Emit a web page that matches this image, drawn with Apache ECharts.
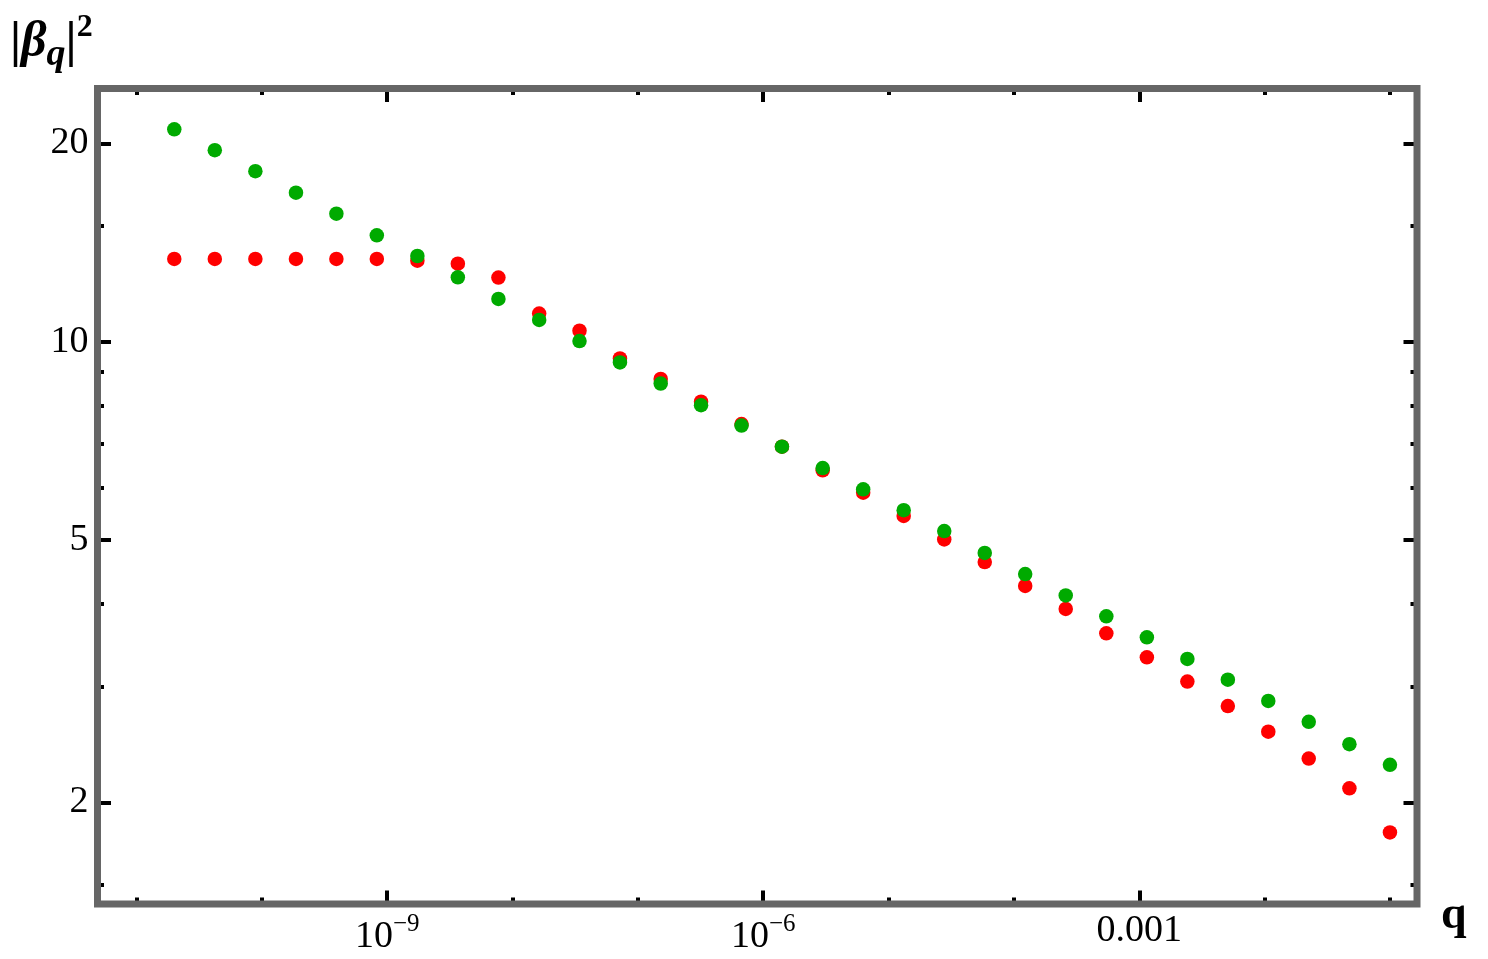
<!DOCTYPE html>
<html>
<head>
<meta charset="utf-8">
<title>|beta_q|^2 vs q</title>
<script src="https://cdn.jsdelivr.net/npm/echarts@6/dist/echarts.min.js"></script>
<style>
  html, body { margin: 0; padding: 0; background: #fff; }
  #chart { width: 1488px; height: 959px; }
</style>
</head>
<body>
<div id="chart"></div>
<script>
// data (both axes logarithmic)
const qValues = [2.0e-11, 4.21e-11, 8.87e-11, 1.87e-10, 3.93e-10, 8.26e-10, 1.74e-9, 3.66e-9,
  7.71e-9, 1.63e-8, 3.42e-8, 7.19e-8, 1.52e-7, 3.19e-7, 6.71e-7, 1.41e-6, 2.98e-6, 6.27e-6,
  1.32e-5, 2.78e-5, 5.85e-5, 1.23e-4, 2.59e-4, 5.46e-4, 1.15e-3, 2.42e-3, 5.09e-3, 1.07e-2,
  2.25e-2, 4.75e-2, 0.1]
const betaRed = [13.35, 13.35, 13.35, 13.35, 13.35, 13.35, 13.27, 13.13, 12.51, 11.03, 10.39,
  9.43, 8.78, 8.11, 7.50, 6.93, 6.38, 5.90, 5.44, 5.01, 4.63, 4.26, 3.93, 3.61, 3.32, 3.05,
  2.80, 2.56, 2.33, 2.10, 1.80]
const betaGreen = [21.0, 19.52, 18.14, 16.83, 15.64, 14.50, 13.49, 12.52, 11.61, 10.79, 10.02,
  9.30, 8.64, 8.01, 7.46, 6.93, 6.43, 5.97, 5.55, 5.16, 4.78, 4.44, 4.12, 3.83, 3.56, 3.30,
  3.07, 2.85, 2.65, 2.45, 2.28]

const xMajorTicks = [1e-9, 1e-6, 1e-3]
const xMinorTicks = [1e-11, 1e-10, 1e-8, 1e-7, 1e-5, 1e-4, 1e-2, 1e-1]
const yMajorTicks = [2, 5, 10, 20]
const yMinorTicks = [1.5, 3, 4, 6, 7, 8, 9, 15]
const xRange = [4.88e-12, 0.1644]
const yRange = [1.402, 24.22]

const lg = Math.log10
const serif = '"Liberation Serif", "DejaVu Serif", serif'

function xLabel(v) {
  const p = Math.round(v)
  if (p === -3) return '0.001'
  return '{b|10}{s|\u2212' + (-p) + '}'
}

function xAxisOf(position, ticks, major) {
  return {
    type: 'value',
    position: position,
    min: lg(xRange[0]),
    max: lg(xRange[1]),
    axisLine: { show: false },
    splitLine: { show: false },
    axisTick: {
      show: true,
      inside: true,
      length: major ? 13.5 : 6.5,
      customValues: ticks.map(lg),
      lineStyle: { color: '#000', width: 4 }
    },
    axisLabel: {
      show: major && position === 'bottom',
      customValues: ticks.map(lg),
      margin: 8,
      formatter: xLabel,
      color: '#000',
      fontFamily: serif,
      fontSize: 38,
      rich: {
        b: { fontFamily: serif, fontSize: 38, color: '#000', lineHeight: 44, verticalAlign: 'bottom' },
        s: { fontFamily: serif, fontSize: 25, color: '#000', lineHeight: 25, verticalAlign: 'top' }
      }
    }
  }
}

function yAxisOf(position, ticks, major) {
  return {
    type: 'value',
    position: position,
    min: lg(yRange[0]),
    max: lg(yRange[1]),
    axisLine: { show: false },
    splitLine: { show: false },
    axisTick: {
      show: true,
      inside: true,
      length: major ? 13.5 : 6.5,
      customValues: ticks.map(lg),
      lineStyle: { color: '#000', width: 4 }
    },
    axisLabel: {
      show: major && position === 'left',
      customValues: ticks.map(lg),
      margin: 9,
      formatter: v => String(Math.round(Math.pow(10, v))),
      color: '#000',
      fontFamily: serif,
      fontSize: 38
    }
  }
}

const chart = echarts.init(document.getElementById('chart'))

chart.setOption({
  animation: false,
  backgroundColor: '#fff',
  title: [{
    text: '{bar||}{beta|\u03B2}{sub|q}{bar||}{sup|2}',
    left: 10,
    top: 12,
    padding: 0,
    textStyle: {
      rich: {
        bar: { fontFamily: serif, fontWeight: 'bold', fontSize: 50, color: '#000', lineHeight: 62 },
        beta: { fontFamily: serif, fontWeight: 'bold', fontStyle: 'italic', fontSize: 50, color: '#000', lineHeight: 62 },
        sub: { fontFamily: serif, fontWeight: 'bold', fontStyle: 'italic', fontSize: 38, color: '#000', lineHeight: 40, verticalAlign: 'bottom' },
        sup: { fontFamily: serif, fontWeight: 'bold', fontSize: 32, color: '#000', lineHeight: 32, verticalAlign: 'top' }
      }
    }
  }, {
    text: 'q',
    left: 1441,
    top: 893,
    padding: 0,
    textStyle: { fontFamily: serif, fontWeight: 'bold', fontSize: 46, color: '#000' }
  }],
  grid: {
    left: 97.5,
    right: 71,
    top: 88.5,
    bottom: 55,
    show: true,
    z: 5,
    backgroundColor: 'transparent',
    borderColor: '#666666',
    borderWidth: 7,
    outerBoundsMode: 'none'
  },
  xAxis: [
    xAxisOf('bottom', xMajorTicks, true),
    xAxisOf('bottom', xMinorTicks, false),
    xAxisOf('top', xMajorTicks, true),
    xAxisOf('top', xMinorTicks, false)
  ],
  yAxis: [
    yAxisOf('left', yMajorTicks, true),
    yAxisOf('left', yMinorTicks, false),
    yAxisOf('right', yMajorTicks, true),
    yAxisOf('right', yMinorTicks, false)
  ],
  series: [{
    name: 'red',
    type: 'scatter',
    symbolSize: 14.5,
    itemStyle: { color: '#ff0000', opacity: 1 },
    data: qValues.map((q, i) => [lg(q), lg(betaRed[i])])
  }, {
    name: 'green',
    type: 'scatter',
    symbolSize: 14.5,
    itemStyle: { color: '#00aa00', opacity: 1 },
    data: qValues.map((q, i) => [lg(q), lg(betaGreen[i])])
  }]
})
</script>
</body>
</html>
